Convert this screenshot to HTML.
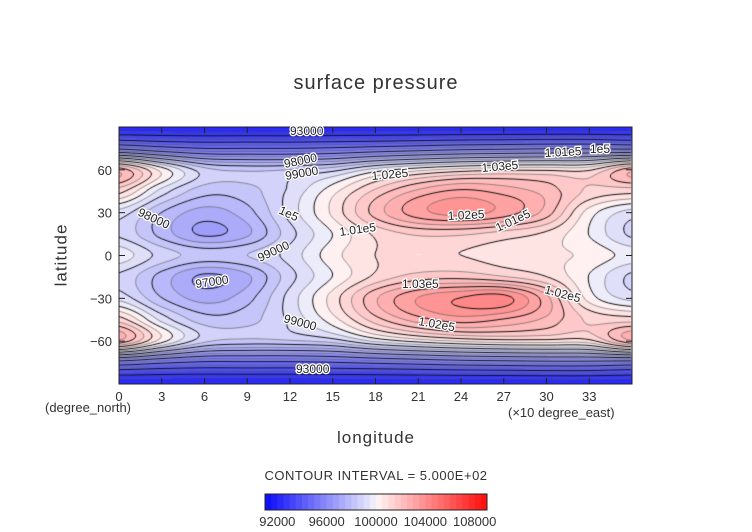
<!DOCTYPE html>
<html><head><meta charset="utf-8">
<style>
body{margin:0;background:#fff;width:752px;height:532px;overflow:hidden;position:relative;font-family:"Liberation Sans",sans-serif;color:#333}
.t{position:absolute;white-space:nowrap;font-size:13px;color:#333}
</style></head><body>
<div class="t" style="left:0;width:752px;text-align:center;top:72px;font-size:20px;letter-spacing:1px">surface pressure</div>
<canvas id="cv" width="513" height="257" style="position:absolute;left:119px;top:127px"></canvas>
<svg id="ax" width="752" height="532" style="position:absolute;left:0;top:0"></svg>
<div class="t" style="left:45px;top:400px">(degree_north)</div>
<div class="t" style="left:508px;top:405px">(×10 degree_east)</div>
<div class="t" style="left:0;width:752px;text-align:center;top:428px;font-size:17px;letter-spacing:1px">longitude</div>
<div class="t" style="left:30px;top:245px;font-size:17px;letter-spacing:1px;transform:rotate(-90deg);transform-origin:center">latitude</div>
<div class="t" style="left:0;width:752px;text-align:center;top:468px;font-size:13px;letter-spacing:0.5px">CONTOUR INTERVAL = 5.000E+02</div>
<script>
const lats=[90,75,60,45,30,15,0,-15,-30,-45,-60,-75,-90];
const lons=[0,30,60,90,120,150,180,210,240,270,300,330,360];
const pressure=[
[92000,92000,92000,92000,92000,92000,92000,92000,92000,92000,92000,92000,92000],
[95800,95300,95000,95000,95000,95100,95300,95500,95700,95800,95900,95900,95800],
[102300,100300,98700,98400,98500,98800,99700,100300,100700,100900,100900,100900,102300],
[101200,99300,98200,98300,99100,100300,101600,102600,103100,102800,102300,101400,101200],
[99300,98000,97300,97800,99200,100600,102200,103300,103700,103300,102300,100300,99300],
[98900,97800,96900,97400,98800,100000,101100,101600,101600,101300,100900,100000,98900],
[99800,98800,98300,98500,99200,100300,101000,101000,101000,100800,100600,100400,99800],
[98900,97800,96900,97400,98800,100000,101100,101700,101800,101500,101000,100000,98900],
[99300,98000,97300,97800,99200,100700,102400,103500,104000,104200,102700,100300,99300],
[101200,99300,98200,98300,99100,100300,101800,102800,103300,103000,102400,101400,101200],
[102500,100300,98700,98400,98500,98800,99700,100300,100700,100900,100900,100900,102500],
[95800,95300,95000,95000,95000,95100,95300,95500,95700,95800,95900,95900,95800],
[92000,92000,92000,92000,92000,92000,92000,92000,92000,92000,92000,92000,92000]];
const cbTicks=[92000,96000,100000,104000,108000];
const labels=[["93000",290,135,0],["98000",285,168,-12],["99000",286,180,-10],["98000",137,215,25],["1e5",278,213,25],["1.02e5",372,180,-5],["1.03e5",482,172,-5],["1.01e5",545,157,-3],["1e5",590,153,0],["1.02e5",448,220,-3],["1.01e5",340,236,-8],["1.01e5",498,232,-25],["99000",260,262,-25],["97000",196,288,-8],["1.03e5",402,288,0],["1.02e5",544,293,15],["1.02e5",418,325,10],["99000",283,322,15],["93000",296,373,0]];
const X0=119,W=513,Y0=127,H=257,VMIN=91000,VMAX=109000,STEP=500;
const xOf=lon=>X0+lon/360*W, yOf=lat=>Y0+(90-lat)/180*H;
function cr(p0,p1,p2,p3,t){return 0.5*(2*p1+(-p0+p2)*t+(2*p0-5*p1+4*p2-p3)*t*t+(-p0+3*p1-3*p2+p3)*t*t*t);}
function g(i,j){i=Math.max(0,Math.min(lats.length-1,i));j=Math.max(0,Math.min(lons.length-1,j));return pressure[i][j];}
function field(lon,lat){
  const fi=(90-lat)/15, fj=lon/30;
  const i=Math.min(11,Math.floor(fi)), j=Math.min(11,Math.floor(fj));
  const ti=fi-i, tj=fj-j, r=[];
  for(let k=-1;k<=2;k++)r.push(cr(g(i+k,j-1),g(i+k,j),g(i+k,j+1),g(i+k,j+2),tj));
  return cr(r[0],r[1],r[2],r[3],ti);
}
function color(v){
  const b=Math.floor((v-VMIN)/STEP), c=VMIN+(b+0.5)*STEP;
  if(c<100000){const t=Math.min(1,(100000-c)/9000);return [255*(1-t)*0.95+10*t,255*(1-t)*0.95+10*t,250];}
  const t=Math.min(1,(c-100000)/9000);return [255,255*(1-t)*0.97+10*t,255*(1-t)*0.97+10*t];
}
const cv=document.getElementById('cv'),ctx=cv.getContext('2d');
const img=ctx.createImageData(W,H);
const vals=[];
for(let y=0;y<H;y++){vals.push([]);for(let x=0;x<W;x++){
  const v=field(x/(W-1)*360,90-y/(H-1)*180);vals[y].push(v);
  const c=color(v),k=(y*W+x)*4;img.data[k]=c[0];img.data[k+1]=c[1];img.data[k+2]=c[2];img.data[k+3]=255;}}
ctx.putImageData(img,0,0);
for(let lv=VMIN+STEP;lv<VMAX;lv+=STEP){
  ctx.strokeStyle=(lv%1000===0)?'#111':'#555';
  ctx.lineWidth=(lv%1000===0)?1:0.6;
  ctx.beginPath();
  const s=2;
  for(let y=0;y<H-s;y+=s)for(let x=0;x<W-s;x+=s){
    const a=vals[y][x],b=vals[y][x+s],c=vals[y+s][x+s],d=vals[y+s][x];
    const pts=[];
    if((a<lv)!==(b<lv))pts.push([x+s*(lv-a)/(b-a),y]);
    if((b<lv)!==(c<lv))pts.push([x+s,y+s*(lv-b)/(c-b)]);
    if((d<lv)!==(c<lv))pts.push([x+s*(lv-d)/(c-d),y+s]);
    if((a<lv)!==(d<lv))pts.push([x,y+s*(lv-a)/(d-a)]);
    for(let k=0;k+1<pts.length;k+=2){ctx.moveTo(pts[k][0],pts[k][1]);ctx.lineTo(pts[k+1][0],pts[k+1][1]);}
  }
  ctx.stroke();
}
const svg=document.getElementById('ax'),NS='http://www.w3.org/2000/svg';
function el(t,a,txt){const e=document.createElementNS(NS,t);for(const k in a)e.setAttribute(k,a[k]);if(txt!==undefined)e.textContent=txt;svg.appendChild(e);return e;}
let f=el('rect',{x:X0,y:Y0,width:W,height:H,fill:'none',stroke:'#222','stroke-width':1});


for(let lon=0;lon<=330;lon+=30){
  const x=xOf(lon);
  el('line',{x1:x,y1:Y0+H,x2:x,y2:Y0+H-6,stroke:'#222'});
  el('line',{x1:x,y1:Y0,x2:x,y2:Y0+6,stroke:'#222'});
  const t=el('text',{x:x,y:401,'text-anchor':'middle','font-size':13,fill:'#333','font-family':'Liberation Sans'},String(lon/10));
  
  
}
for(let lat=-60;lat<=60;lat+=30){
  const y=yOf(lat);
  el('line',{x1:X0,y1:y,x2:X0+6,y2:y,stroke:'#222'});
  el('line',{x1:X0+W,y1:y,x2:X0+W-6,y2:y,stroke:'#222'});
  const t=el('text',{x:112,y:y+5,'text-anchor':'end','font-size':13,fill:'#333','font-family':'Liberation Sans'},String(lat).replace('-','−'));
  
  
}
for(const L of labels){
  const t=el('text',{x:L[1],y:L[2],'font-size':12,fill:'#222','font-family':'Liberation Sans',transform:`rotate(${L[3]} ${L[1]} ${L[2]})`,stroke:'#fff','stroke-width':2.5,'paint-order':'stroke'},L[0]);
  
  
}
const CBX=265,CBW=222,CBY=494,CBH=16,n=(VMAX-VMIN)/STEP;
for(let i=0;i<n;i++){
  const c=color(VMIN+(i+0.5)*STEP);
  const r=el('rect',{x:CBX+i*CBW/n,y:CBY,width:CBW/n+0.3,height:CBH,fill:`rgb(${c.map(Math.round).join(',')})`});
  
  
}
el('rect',{x:CBX,y:CBY,width:CBW,height:CBH,fill:'none',stroke:'#222'});
for(const v of cbTicks){
  const t=el('text',{x:CBX+(v-VMIN)/(VMAX-VMIN)*CBW,y:526,'text-anchor':'middle','font-size':13,fill:'#333','font-family':'Liberation Sans'},String(v));
  
  
}
</script>
</body></html>
